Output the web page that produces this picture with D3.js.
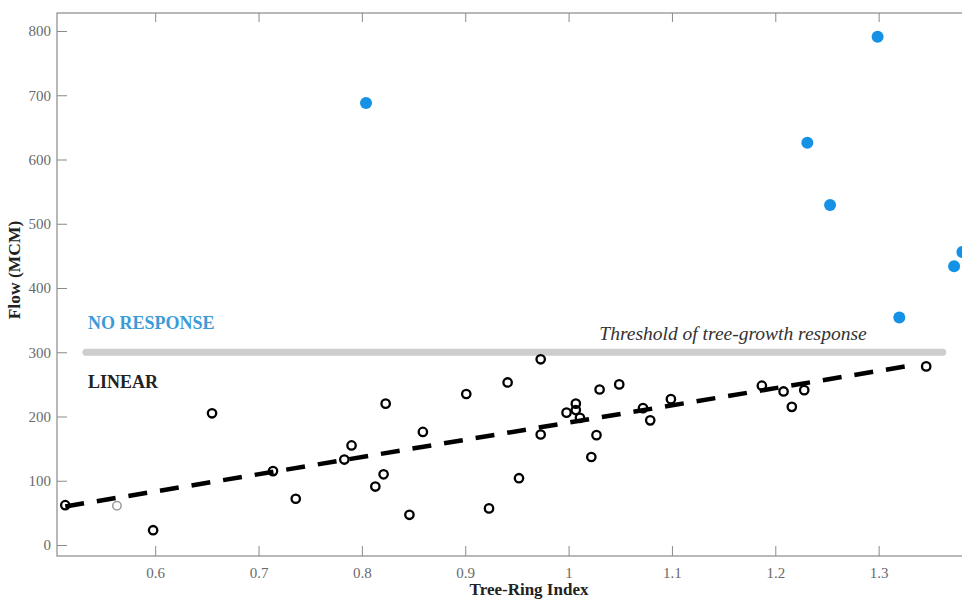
<!DOCTYPE html>
<html>
<head>
<meta charset="utf-8">
<script src="https://cdn.jsdelivr.net/npm/d3@7"></script>
<style>
  body { margin: 0; background: #fff; overflow: hidden; }
  text { font-family: "Liberation Serif", "DejaVu Serif", serif; }
</style>
</head>
<body>
<div id="my_dataviz"></div>
<script>
// tree-ring index vs flow, linear (black) and no response (blue) years
var linearX = [0.513, 0.598, 0.655, 0.714, 0.736, 0.783, 0.790, 0.813, 0.821, 0.823, 0.846, 0.859, 0.901,
    0.923, 0.941, 0.952, 0.973, 0.973, 0.998, 1.007, 1.007, 1.011, 1.022, 1.027, 1.030, 1.049,
    1.072, 1.079, 1.099, 1.187, 1.208, 1.216, 1.228, 1.346];
var linearY = [62, 23, 205, 115, 72, 133, 155, 91, 110, 220, 47, 176, 235,
    57, 253, 104, 289, 172, 206, 220, 210, 198, 137, 171, 242, 250,
    213, 194, 227, 248, 239, 215, 241, 278];
var outlierX = [0.563];
var outlierY = [61];
var noRespX = [0.804, 1.231, 1.253, 1.299, 1.320, 1.373, 1.381];
var noRespY = [688, 626, 529, 791, 354, 434, 456];
var fitX = [0.513, 1.330];
var fitY = [60, 279];
var threshold = 300;
var thresholdX = [0.533, 1.362];
var xTicks = [0.6, 0.7, 0.8, 0.9, 1, 1.1, 1.2, 1.3];
var yTicks = [0, 100, 200, 300, 400, 500, 600, 700, 800];

var width = 962,
    height = 599;
var margin = { top: 13, left: 57, bottom: 556 };

var svg = d3.select("#my_dataviz")
    .append("svg")
    .attr("width", width)
    .attr("height", height);

var x = d3.scaleLinear()
    .domain([0.505, 1.4])
    .range([margin.left, 982]);

var y = d3.scaleLinear()
    .domain([0, 800])
    .range([545, 31]);

// frame
svg.append("rect")
    .attr("x", margin.left)
    .attr("y", margin.top)
    .attr("width", 990 - margin.left)
    .attr("height", margin.bottom - margin.top)
    .attr("fill", "none")
    .attr("stroke", "#8a8a8a")
    .attr("stroke-width", 1.2);

// bottom axis
var xAxis = svg.append("g")
    .attr("transform", "translate(0," + margin.bottom + ")")
    .call(d3.axisBottom(x).tickValues(xTicks).tickSize(-10).tickPadding(11).tickFormat(d3.format("")));
xAxis.select(".domain").remove();
xAxis.selectAll("line").attr("stroke", "#8a8a8a");
xAxis.selectAll("text").attr("fill", "#6a6a6a").style("font-size", "15px").attr("font-family", "Liberation Serif");

// top axis ticks
var topAxis = svg.append("g")
    .attr("transform", "translate(0," + margin.top + ")")
    .call(d3.axisTop(x).tickValues(xTicks).tickSize(-9).tickFormat(""));
topAxis.select(".domain").remove();
topAxis.selectAll("line").attr("stroke", "#8a8a8a");

// left axis
var yAxis = svg.append("g")
    .attr("transform", "translate(" + margin.left + ",0)")
    .call(d3.axisLeft(y).tickValues(yTicks).tickSize(-10).tickPadding(6));
yAxis.select(".domain").remove();
yAxis.selectAll("line").attr("stroke", "#8a8a8a");
yAxis.selectAll("text").attr("fill", "#6a6a6a").style("font-size", "15px").attr("font-family", "Liberation Serif");

// threshold
svg.append("line")
    .attr("x1", x(thresholdX[0]))
    .attr("x2", x(thresholdX[1]))
    .attr("y1", y(threshold))
    .attr("y2", y(threshold))
    .attr("stroke", "#cdcdcd")
    .attr("stroke-width", 7)
    .attr("stroke-linecap", "round");

svg.append("text")
    .attr("x", x(thresholdX[1]) - 76)
    .attr("y", y(threshold) - 12)
    .attr("text-anchor", "end")
    .attr("font-style", "italic")
    .attr("fill", "#333")
    .style("font-size", "19.5px")
    .text("Threshold of tree-growth response");

svg.append("text")
    .attr("x", 88)
    .attr("y", y(threshold) - 23)
    .attr("font-weight", "bold")
    .attr("fill", "#3b9bd8")
    .style("font-size", "18px")
    .text("NO RESPONSE");

svg.append("text")
    .attr("x", 88)
    .attr("y", y(threshold) + 36)
    .attr("font-weight", "bold")
    .attr("fill", "#222")
    .style("font-size", "18px")
    .text("LINEAR");

// regression line
svg.append("line")
    .attr("x1", x(fitX[0]))
    .attr("x2", x(fitX[1]))
    .attr("y1", y(fitY[0]))
    .attr("y2", y(fitY[1]))
    .attr("stroke", "#000")
    .attr("stroke-width", 4.5)
    .attr("stroke-dasharray", "19,13");

// points
svg.selectAll("linearDot")
    .data(linearX)
    .enter()
    .append("circle")
    .attr("cx", function(d) { return x(d); })
    .attr("cy", function(d, i) { return y(linearY[i]); })
    .attr("r", 4.2)
    .attr("fill", "none")
    .attr("stroke", "#000")
    .attr("stroke-width", 2.3);

svg.selectAll("outlierDot")
    .data(outlierX)
    .enter()
    .append("circle")
    .attr("cx", function(d) { return x(d); })
    .attr("cy", function(d, i) { return y(outlierY[i]); })
    .attr("r", 4.2)
    .attr("fill", "none")
    .attr("stroke", "#9a9a9a")
    .attr("stroke-width", 1.5);

svg.selectAll("noRespDot")
    .data(noRespX)
    .enter()
    .append("circle")
    .attr("cx", function(d) { return x(d); })
    .attr("cy", function(d, i) { return y(noRespY[i]); })
    .attr("r", 6)
    .attr("fill", "#1591e6");

// axis titles
svg.append("text")
    .attr("x", 529)
    .attr("y", 595)
    .attr("text-anchor", "middle")
    .attr("font-weight", "bold")
    .attr("fill", "#222")
    .style("font-size", "17px")
    .text("Tree-Ring Index");

svg.append("text")
    .attr("transform", "translate(20,270)rotate(-90)")
    .attr("text-anchor", "middle")
    .attr("font-weight", "bold")
    .attr("fill", "#222")
    .style("font-size", "17.5px")
    .text("Flow (MCM)");
</script>
</body>
</html>
